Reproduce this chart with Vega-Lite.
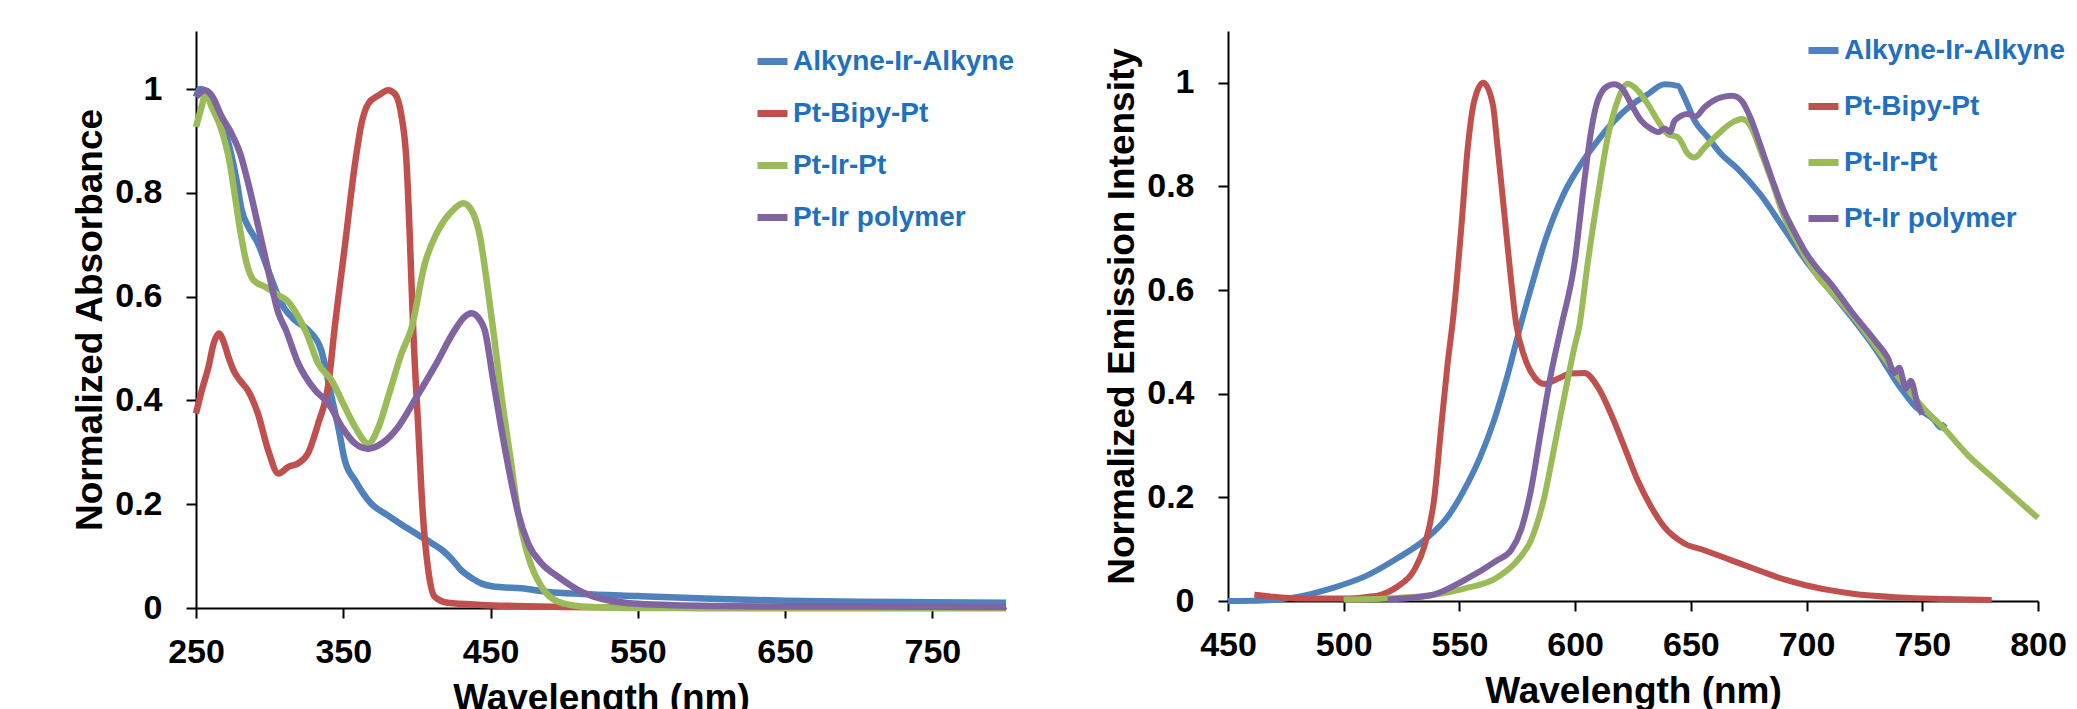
{
  "$schema": "https://vega.github.io/schema/vega-lite/v6.json",
  "background": "white",
  "padding": {"left": 71, "top": 31, "right": 0, "bottom": 0},
  "bounds": "flush",
  "spacing": 222,
  "config": {
    "view": {"stroke": null},
    "font": "Liberation Sans",
    "axis": {
      "grid": false,
      "labelFlush": false,
      "labelOverlap": false,
      "domainColor": "black",
      "domainWidth": 2,
      "tickColor": "black",
      "tickWidth": 2,
      "tickSize": 10,
      "labelFont": "Liberation Sans",
      "labelFontSize": 34,
      "labelFontWeight": "bold",
      "labelColor": "black",
      "titleFont": "Liberation Sans",
      "titleFontSize": 37,
      "titleFontWeight": "bold",
      "titleColor": "black"
    },
    "axisX": {"labelPadding": 17, "titlePadding": 11},
    "axisY": {"labelPadding": 24, "titlePadding": 5},
    "legend": {
      "title": null,
      "symbolType": "stroke",
      "symbolSize": 900,
      "symbolStrokeWidth": 7,
      "labelFont": "Liberation Sans",
      "labelFontSize": 28,
      "labelFontWeight": "bold",
      "labelColor": "#1F70C1",
      "labelLimit": 600,
      "labelOffset": 2,
      "padding": 0
    }
  },
  "resolve": {"scale": {"color": "independent"}, "legend": {"color": "independent"}},
  "datasets": {
    "abs": [
      {"s": "Alkyne-Ir-Alkyne", "wl": 250, "v": 0.985},
      {"s": "Alkyne-Ir-Alkyne", "wl": 253, "v": 1.0},
      {"s": "Alkyne-Ir-Alkyne", "wl": 257, "v": 0.995},
      {"s": "Alkyne-Ir-Alkyne", "wl": 262, "v": 0.975},
      {"s": "Alkyne-Ir-Alkyne", "wl": 267, "v": 0.94},
      {"s": "Alkyne-Ir-Alkyne", "wl": 273, "v": 0.885},
      {"s": "Alkyne-Ir-Alkyne", "wl": 277.5, "v": 0.825},
      {"s": "Alkyne-Ir-Alkyne", "wl": 281, "v": 0.767},
      {"s": "Alkyne-Ir-Alkyne", "wl": 285.5, "v": 0.735},
      {"s": "Alkyne-Ir-Alkyne", "wl": 292, "v": 0.703},
      {"s": "Alkyne-Ir-Alkyne", "wl": 299, "v": 0.651},
      {"s": "Alkyne-Ir-Alkyne", "wl": 308, "v": 0.587},
      {"s": "Alkyne-Ir-Alkyne", "wl": 317, "v": 0.555},
      {"s": "Alkyne-Ir-Alkyne", "wl": 326, "v": 0.536},
      {"s": "Alkyne-Ir-Alkyne", "wl": 335, "v": 0.497},
      {"s": "Alkyne-Ir-Alkyne", "wl": 342, "v": 0.407},
      {"s": "Alkyne-Ir-Alkyne", "wl": 347, "v": 0.343},
      {"s": "Alkyne-Ir-Alkyne", "wl": 351, "v": 0.285},
      {"s": "Alkyne-Ir-Alkyne", "wl": 358, "v": 0.246},
      {"s": "Alkyne-Ir-Alkyne", "wl": 369, "v": 0.201},
      {"s": "Alkyne-Ir-Alkyne", "wl": 380, "v": 0.179},
      {"s": "Alkyne-Ir-Alkyne", "wl": 390, "v": 0.16},
      {"s": "Alkyne-Ir-Alkyne", "wl": 399, "v": 0.144},
      {"s": "Alkyne-Ir-Alkyne", "wl": 410, "v": 0.125},
      {"s": "Alkyne-Ir-Alkyne", "wl": 417, "v": 0.112},
      {"s": "Alkyne-Ir-Alkyne", "wl": 424, "v": 0.093},
      {"s": "Alkyne-Ir-Alkyne", "wl": 430, "v": 0.073},
      {"s": "Alkyne-Ir-Alkyne", "wl": 437, "v": 0.058},
      {"s": "Alkyne-Ir-Alkyne", "wl": 444, "v": 0.047},
      {"s": "Alkyne-Ir-Alkyne", "wl": 451, "v": 0.042},
      {"s": "Alkyne-Ir-Alkyne", "wl": 458, "v": 0.04},
      {"s": "Alkyne-Ir-Alkyne", "wl": 471, "v": 0.038},
      {"s": "Alkyne-Ir-Alkyne", "wl": 489, "v": 0.031},
      {"s": "Alkyne-Ir-Alkyne", "wl": 512, "v": 0.027},
      {"s": "Alkyne-Ir-Alkyne", "wl": 550, "v": 0.023},
      {"s": "Alkyne-Ir-Alkyne", "wl": 600, "v": 0.018},
      {"s": "Alkyne-Ir-Alkyne", "wl": 650, "v": 0.014},
      {"s": "Alkyne-Ir-Alkyne", "wl": 700, "v": 0.012},
      {"s": "Alkyne-Ir-Alkyne", "wl": 750, "v": 0.011},
      {"s": "Alkyne-Ir-Alkyne", "wl": 800, "v": 0.01},

      {"s": "Pt-Bipy-Pt", "wl": 250, "v": 0.375},
      {"s": "Pt-Bipy-Pt", "wl": 254, "v": 0.42},
      {"s": "Pt-Bipy-Pt", "wl": 258.5, "v": 0.465},
      {"s": "Pt-Bipy-Pt", "wl": 262, "v": 0.51},
      {"s": "Pt-Bipy-Pt", "wl": 265.5, "v": 0.529},
      {"s": "Pt-Bipy-Pt", "wl": 268.5, "v": 0.515},
      {"s": "Pt-Bipy-Pt", "wl": 272, "v": 0.484},
      {"s": "Pt-Bipy-Pt", "wl": 276, "v": 0.455},
      {"s": "Pt-Bipy-Pt", "wl": 280, "v": 0.438},
      {"s": "Pt-Bipy-Pt", "wl": 285.5, "v": 0.418},
      {"s": "Pt-Bipy-Pt", "wl": 292, "v": 0.375},
      {"s": "Pt-Bipy-Pt", "wl": 299, "v": 0.304},
      {"s": "Pt-Bipy-Pt", "wl": 306, "v": 0.259},
      {"s": "Pt-Bipy-Pt", "wl": 312.7, "v": 0.272},
      {"s": "Pt-Bipy-Pt", "wl": 319.5, "v": 0.279},
      {"s": "Pt-Bipy-Pt", "wl": 326, "v": 0.298},
      {"s": "Pt-Bipy-Pt", "wl": 333, "v": 0.356},
      {"s": "Pt-Bipy-Pt", "wl": 340, "v": 0.433},
      {"s": "Pt-Bipy-Pt", "wl": 344, "v": 0.536},
      {"s": "Pt-Bipy-Pt", "wl": 351, "v": 0.696},
      {"s": "Pt-Bipy-Pt", "wl": 358, "v": 0.857},
      {"s": "Pt-Bipy-Pt", "wl": 362.4, "v": 0.934},
      {"s": "Pt-Bipy-Pt", "wl": 367, "v": 0.972},
      {"s": "Pt-Bipy-Pt", "wl": 374, "v": 0.988},
      {"s": "Pt-Bipy-Pt", "wl": 380.5, "v": 0.998},
      {"s": "Pt-Bipy-Pt", "wl": 385, "v": 0.991},
      {"s": "Pt-Bipy-Pt", "wl": 389.6, "v": 0.947},
      {"s": "Pt-Bipy-Pt", "wl": 393, "v": 0.857},
      {"s": "Pt-Bipy-Pt", "wl": 395, "v": 0.728},
      {"s": "Pt-Bipy-Pt", "wl": 397.5, "v": 0.536},
      {"s": "Pt-Bipy-Pt", "wl": 401, "v": 0.343},
      {"s": "Pt-Bipy-Pt", "wl": 404, "v": 0.182},
      {"s": "Pt-Bipy-Pt", "wl": 407.7, "v": 0.073},
      {"s": "Pt-Bipy-Pt", "wl": 412, "v": 0.022},
      {"s": "Pt-Bipy-Pt", "wl": 421, "v": 0.01},
      {"s": "Pt-Bipy-Pt", "wl": 444, "v": 0.006},
      {"s": "Pt-Bipy-Pt", "wl": 466, "v": 0.004},
      {"s": "Pt-Bipy-Pt", "wl": 500, "v": 0.002},
      {"s": "Pt-Bipy-Pt", "wl": 550, "v": 0.001},
      {"s": "Pt-Bipy-Pt", "wl": 600, "v": 0.0},
      {"s": "Pt-Bipy-Pt", "wl": 800, "v": 0.0},

      {"s": "Pt-Ir-Pt", "wl": 250, "v": 0.927},
      {"s": "Pt-Ir-Pt", "wl": 253.8, "v": 0.966},
      {"s": "Pt-Ir-Pt", "wl": 256.6, "v": 0.992},
      {"s": "Pt-Ir-Pt", "wl": 260.6, "v": 0.966},
      {"s": "Pt-Ir-Pt", "wl": 267.4, "v": 0.921},
      {"s": "Pt-Ir-Pt", "wl": 273, "v": 0.857},
      {"s": "Pt-Ir-Pt", "wl": 276.5, "v": 0.793},
      {"s": "Pt-Ir-Pt", "wl": 280, "v": 0.728},
      {"s": "Pt-Ir-Pt", "wl": 284.4, "v": 0.664},
      {"s": "Pt-Ir-Pt", "wl": 289, "v": 0.632},
      {"s": "Pt-Ir-Pt", "wl": 296.8, "v": 0.619},
      {"s": "Pt-Ir-Pt", "wl": 305.9, "v": 0.603},
      {"s": "Pt-Ir-Pt", "wl": 312.7, "v": 0.59},
      {"s": "Pt-Ir-Pt", "wl": 319.5, "v": 0.561},
      {"s": "Pt-Ir-Pt", "wl": 325, "v": 0.53},
      {"s": "Pt-Ir-Pt", "wl": 333, "v": 0.471},
      {"s": "Pt-Ir-Pt", "wl": 342, "v": 0.439},
      {"s": "Pt-Ir-Pt", "wl": 351, "v": 0.388},
      {"s": "Pt-Ir-Pt", "wl": 358, "v": 0.349},
      {"s": "Pt-Ir-Pt", "wl": 367, "v": 0.317},
      {"s": "Pt-Ir-Pt", "wl": 374, "v": 0.349},
      {"s": "Pt-Ir-Pt", "wl": 380.5, "v": 0.407},
      {"s": "Pt-Ir-Pt", "wl": 389.6, "v": 0.491},
      {"s": "Pt-Ir-Pt", "wl": 396.4, "v": 0.54},
      {"s": "Pt-Ir-Pt", "wl": 405.4, "v": 0.664},
      {"s": "Pt-Ir-Pt", "wl": 414.5, "v": 0.728},
      {"s": "Pt-Ir-Pt", "wl": 423.5, "v": 0.764},
      {"s": "Pt-Ir-Pt", "wl": 431.4, "v": 0.78},
      {"s": "Pt-Ir-Pt", "wl": 437, "v": 0.767},
      {"s": "Pt-Ir-Pt", "wl": 442.8, "v": 0.716},
      {"s": "Pt-Ir-Pt", "wl": 447.3, "v": 0.632},
      {"s": "Pt-Ir-Pt", "wl": 451.8, "v": 0.536},
      {"s": "Pt-Ir-Pt", "wl": 457.5, "v": 0.407},
      {"s": "Pt-Ir-Pt", "wl": 464, "v": 0.279},
      {"s": "Pt-Ir-Pt", "wl": 468.8, "v": 0.182},
      {"s": "Pt-Ir-Pt", "wl": 475.6, "v": 0.099},
      {"s": "Pt-Ir-Pt", "wl": 484.6, "v": 0.041},
      {"s": "Pt-Ir-Pt", "wl": 496, "v": 0.012},
      {"s": "Pt-Ir-Pt", "wl": 512, "v": 0.003},
      {"s": "Pt-Ir-Pt", "wl": 530, "v": 0.001},
      {"s": "Pt-Ir-Pt", "wl": 550, "v": 0.0},
      {"s": "Pt-Ir-Pt", "wl": 800, "v": 0.0},

      {"s": "Pt-Ir polymer", "wl": 250, "v": 0.985},
      {"s": "Pt-Ir polymer", "wl": 256, "v": 0.998},
      {"s": "Pt-Ir polymer", "wl": 260.6, "v": 0.988},
      {"s": "Pt-Ir polymer", "wl": 267.4, "v": 0.947},
      {"s": "Pt-Ir polymer", "wl": 274, "v": 0.915},
      {"s": "Pt-Ir polymer", "wl": 280, "v": 0.876},
      {"s": "Pt-Ir polymer", "wl": 285.5, "v": 0.818},
      {"s": "Pt-Ir polymer", "wl": 292.3, "v": 0.735},
      {"s": "Pt-Ir polymer", "wl": 299, "v": 0.651},
      {"s": "Pt-Ir polymer", "wl": 306, "v": 0.568},
      {"s": "Pt-Ir polymer", "wl": 311, "v": 0.536},
      {"s": "Pt-Ir polymer", "wl": 319.5, "v": 0.471},
      {"s": "Pt-Ir polymer", "wl": 330.8, "v": 0.42},
      {"s": "Pt-Ir polymer", "wl": 340, "v": 0.394},
      {"s": "Pt-Ir polymer", "wl": 349, "v": 0.349},
      {"s": "Pt-Ir polymer", "wl": 358, "v": 0.317},
      {"s": "Pt-Ir polymer", "wl": 367, "v": 0.307},
      {"s": "Pt-Ir polymer", "wl": 376, "v": 0.317},
      {"s": "Pt-Ir polymer", "wl": 387.3, "v": 0.349},
      {"s": "Pt-Ir polymer", "wl": 398.6, "v": 0.401},
      {"s": "Pt-Ir polymer", "wl": 412, "v": 0.465},
      {"s": "Pt-Ir polymer", "wl": 425.8, "v": 0.536},
      {"s": "Pt-Ir polymer", "wl": 432, "v": 0.56},
      {"s": "Pt-Ir polymer", "wl": 437, "v": 0.568},
      {"s": "Pt-Ir polymer", "wl": 442.8, "v": 0.555},
      {"s": "Pt-Ir polymer", "wl": 446, "v": 0.536},
      {"s": "Pt-Ir polymer", "wl": 451.8, "v": 0.439},
      {"s": "Pt-Ir polymer", "wl": 457.5, "v": 0.343},
      {"s": "Pt-Ir polymer", "wl": 463, "v": 0.259},
      {"s": "Pt-Ir polymer", "wl": 468.8, "v": 0.182},
      {"s": "Pt-Ir polymer", "wl": 475.6, "v": 0.124},
      {"s": "Pt-Ir polymer", "wl": 484.6, "v": 0.086},
      {"s": "Pt-Ir polymer", "wl": 496, "v": 0.06},
      {"s": "Pt-Ir polymer", "wl": 512, "v": 0.031},
      {"s": "Pt-Ir polymer", "wl": 520, "v": 0.022},
      {"s": "Pt-Ir polymer", "wl": 530, "v": 0.015},
      {"s": "Pt-Ir polymer", "wl": 550, "v": 0.008},
      {"s": "Pt-Ir polymer", "wl": 580, "v": 0.005},
      {"s": "Pt-Ir polymer", "wl": 600, "v": 0.004},
      {"s": "Pt-Ir polymer", "wl": 650, "v": 0.003},
      {"s": "Pt-Ir polymer", "wl": 700, "v": 0.003},
      {"s": "Pt-Ir polymer", "wl": 800, "v": 0.002}
    ],
    "em": [
      {"s": "Alkyne-Ir-Alkyne", "wl": 450, "v": 0.0},
      {"s": "Alkyne-Ir-Alkyne", "wl": 465, "v": 0.001},
      {"s": "Alkyne-Ir-Alkyne", "wl": 480, "v": 0.008},
      {"s": "Alkyne-Ir-Alkyne", "wl": 495, "v": 0.025},
      {"s": "Alkyne-Ir-Alkyne", "wl": 509, "v": 0.047},
      {"s": "Alkyne-Ir-Alkyne", "wl": 523, "v": 0.082},
      {"s": "Alkyne-Ir-Alkyne", "wl": 535, "v": 0.118},
      {"s": "Alkyne-Ir-Alkyne", "wl": 545, "v": 0.163},
      {"s": "Alkyne-Ir-Alkyne", "wl": 552, "v": 0.214},
      {"s": "Alkyne-Ir-Alkyne", "wl": 559, "v": 0.278},
      {"s": "Alkyne-Ir-Alkyne", "wl": 565, "v": 0.349},
      {"s": "Alkyne-Ir-Alkyne", "wl": 571, "v": 0.439},
      {"s": "Alkyne-Ir-Alkyne", "wl": 576, "v": 0.525},
      {"s": "Alkyne-Ir-Alkyne", "wl": 581, "v": 0.605},
      {"s": "Alkyne-Ir-Alkyne", "wl": 587, "v": 0.695},
      {"s": "Alkyne-Ir-Alkyne", "wl": 595, "v": 0.785},
      {"s": "Alkyne-Ir-Alkyne", "wl": 602.5, "v": 0.843},
      {"s": "Alkyne-Ir-Alkyne", "wl": 609.7, "v": 0.888},
      {"s": "Alkyne-Ir-Alkyne", "wl": 617, "v": 0.927},
      {"s": "Alkyne-Ir-Alkyne", "wl": 624, "v": 0.956},
      {"s": "Alkyne-Ir-Alkyne", "wl": 631.4, "v": 0.978},
      {"s": "Alkyne-Ir-Alkyne", "wl": 638.6, "v": 0.997},
      {"s": "Alkyne-Ir-Alkyne", "wl": 644.4, "v": 0.994},
      {"s": "Alkyne-Ir-Alkyne", "wl": 647.2, "v": 0.972},
      {"s": "Alkyne-Ir-Alkyne", "wl": 651.6, "v": 0.927},
      {"s": "Alkyne-Ir-Alkyne", "wl": 657.3, "v": 0.895},
      {"s": "Alkyne-Ir-Alkyne", "wl": 663, "v": 0.863},
      {"s": "Alkyne-Ir-Alkyne", "wl": 670, "v": 0.835},
      {"s": "Alkyne-Ir-Alkyne", "wl": 680, "v": 0.785},
      {"s": "Alkyne-Ir-Alkyne", "wl": 690, "v": 0.72},
      {"s": "Alkyne-Ir-Alkyne", "wl": 700, "v": 0.655},
      {"s": "Alkyne-Ir-Alkyne", "wl": 710, "v": 0.6},
      {"s": "Alkyne-Ir-Alkyne", "wl": 720, "v": 0.545},
      {"s": "Alkyne-Ir-Alkyne", "wl": 730, "v": 0.485},
      {"s": "Alkyne-Ir-Alkyne", "wl": 740, "v": 0.415},
      {"s": "Alkyne-Ir-Alkyne", "wl": 747, "v": 0.375},
      {"s": "Alkyne-Ir-Alkyne", "wl": 755, "v": 0.35},
      {"s": "Alkyne-Ir-Alkyne", "wl": 758, "v": 0.335},
      {"s": "Alkyne-Ir-Alkyne", "wl": 760, "v": 0.342},

      {"s": "Pt-Bipy-Pt", "wl": 461.4, "v": 0.012},
      {"s": "Pt-Bipy-Pt", "wl": 470, "v": 0.008},
      {"s": "Pt-Bipy-Pt", "wl": 480, "v": 0.005},
      {"s": "Pt-Bipy-Pt", "wl": 500, "v": 0.005},
      {"s": "Pt-Bipy-Pt", "wl": 510, "v": 0.008},
      {"s": "Pt-Bipy-Pt", "wl": 516, "v": 0.012},
      {"s": "Pt-Bipy-Pt", "wl": 523.3, "v": 0.028},
      {"s": "Pt-Bipy-Pt", "wl": 530.5, "v": 0.06},
      {"s": "Pt-Bipy-Pt", "wl": 534.8, "v": 0.105},
      {"s": "Pt-Bipy-Pt", "wl": 539.2, "v": 0.201},
      {"s": "Pt-Bipy-Pt", "wl": 542, "v": 0.33},
      {"s": "Pt-Bipy-Pt", "wl": 544.9, "v": 0.458},
      {"s": "Pt-Bipy-Pt", "wl": 547.5, "v": 0.555},
      {"s": "Pt-Bipy-Pt", "wl": 550.7, "v": 0.715},
      {"s": "Pt-Bipy-Pt", "wl": 553.6, "v": 0.875},
      {"s": "Pt-Bipy-Pt", "wl": 556.4, "v": 0.965},
      {"s": "Pt-Bipy-Pt", "wl": 560.3, "v": 1.0},
      {"s": "Pt-Bipy-Pt", "wl": 564.4, "v": 0.959},
      {"s": "Pt-Bipy-Pt", "wl": 566.5, "v": 0.875},
      {"s": "Pt-Bipy-Pt", "wl": 568.7, "v": 0.779},
      {"s": "Pt-Bipy-Pt", "wl": 571.6, "v": 0.65},
      {"s": "Pt-Bipy-Pt", "wl": 574.5, "v": 0.535},
      {"s": "Pt-Bipy-Pt", "wl": 578.1, "v": 0.471},
      {"s": "Pt-Bipy-Pt", "wl": 582.4, "v": 0.432},
      {"s": "Pt-Bipy-Pt", "wl": 586.7, "v": 0.419},
      {"s": "Pt-Bipy-Pt", "wl": 592.5, "v": 0.429},
      {"s": "Pt-Bipy-Pt", "wl": 598.2, "v": 0.439},
      {"s": "Pt-Bipy-Pt", "wl": 604, "v": 0.44},
      {"s": "Pt-Bipy-Pt", "wl": 609.8, "v": 0.413},
      {"s": "Pt-Bipy-Pt", "wl": 615.5, "v": 0.361},
      {"s": "Pt-Bipy-Pt", "wl": 621.3, "v": 0.297},
      {"s": "Pt-Bipy-Pt", "wl": 627, "v": 0.233},
      {"s": "Pt-Bipy-Pt", "wl": 632.8, "v": 0.182},
      {"s": "Pt-Bipy-Pt", "wl": 638.5, "v": 0.143},
      {"s": "Pt-Bipy-Pt", "wl": 647.2, "v": 0.111},
      {"s": "Pt-Bipy-Pt", "wl": 655.8, "v": 0.098},
      {"s": "Pt-Bipy-Pt", "wl": 667.3, "v": 0.079},
      {"s": "Pt-Bipy-Pt", "wl": 680, "v": 0.058},
      {"s": "Pt-Bipy-Pt", "wl": 690, "v": 0.042},
      {"s": "Pt-Bipy-Pt", "wl": 700, "v": 0.03},
      {"s": "Pt-Bipy-Pt", "wl": 710, "v": 0.021},
      {"s": "Pt-Bipy-Pt", "wl": 720, "v": 0.014},
      {"s": "Pt-Bipy-Pt", "wl": 740, "v": 0.007},
      {"s": "Pt-Bipy-Pt", "wl": 760, "v": 0.004},
      {"s": "Pt-Bipy-Pt", "wl": 780, "v": 0.002},

      {"s": "Pt-Ir-Pt", "wl": 500, "v": 0.003},
      {"s": "Pt-Ir-Pt", "wl": 523.3, "v": 0.006},
      {"s": "Pt-Ir-Pt", "wl": 537.7, "v": 0.011},
      {"s": "Pt-Ir-Pt", "wl": 552.1, "v": 0.024},
      {"s": "Pt-Ir-Pt", "wl": 566.5, "v": 0.046},
      {"s": "Pt-Ir-Pt", "wl": 575.2, "v": 0.079},
      {"s": "Pt-Ir-Pt", "wl": 580.9, "v": 0.117},
      {"s": "Pt-Ir-Pt", "wl": 586.7, "v": 0.201},
      {"s": "Pt-Ir-Pt", "wl": 591, "v": 0.297},
      {"s": "Pt-Ir-Pt", "wl": 595.3, "v": 0.394},
      {"s": "Pt-Ir-Pt", "wl": 599.7, "v": 0.49},
      {"s": "Pt-Ir-Pt", "wl": 601.8, "v": 0.53},
      {"s": "Pt-Ir-Pt", "wl": 605.4, "v": 0.651},
      {"s": "Pt-Ir-Pt", "wl": 609.7, "v": 0.779},
      {"s": "Pt-Ir-Pt", "wl": 614.1, "v": 0.895},
      {"s": "Pt-Ir-Pt", "wl": 618.4, "v": 0.966},
      {"s": "Pt-Ir-Pt", "wl": 622.7, "v": 0.998},
      {"s": "Pt-Ir-Pt", "wl": 627.1, "v": 0.985},
      {"s": "Pt-Ir-Pt", "wl": 631.4, "v": 0.959},
      {"s": "Pt-Ir-Pt", "wl": 635.7, "v": 0.927},
      {"s": "Pt-Ir-Pt", "wl": 640.1, "v": 0.901},
      {"s": "Pt-Ir-Pt", "wl": 644.4, "v": 0.895},
      {"s": "Pt-Ir-Pt", "wl": 648.7, "v": 0.863},
      {"s": "Pt-Ir-Pt", "wl": 651.6, "v": 0.856},
      {"s": "Pt-Ir-Pt", "wl": 655.9, "v": 0.875},
      {"s": "Pt-Ir-Pt", "wl": 661.7, "v": 0.901},
      {"s": "Pt-Ir-Pt", "wl": 667.4, "v": 0.922},
      {"s": "Pt-Ir-Pt", "wl": 672, "v": 0.93},
      {"s": "Pt-Ir-Pt", "wl": 676, "v": 0.915},
      {"s": "Pt-Ir-Pt", "wl": 680, "v": 0.87},
      {"s": "Pt-Ir-Pt", "wl": 685, "v": 0.81},
      {"s": "Pt-Ir-Pt", "wl": 690, "v": 0.745},
      {"s": "Pt-Ir-Pt", "wl": 695, "v": 0.7},
      {"s": "Pt-Ir-Pt", "wl": 700, "v": 0.66},
      {"s": "Pt-Ir-Pt", "wl": 705, "v": 0.625},
      {"s": "Pt-Ir-Pt", "wl": 710, "v": 0.6},
      {"s": "Pt-Ir-Pt", "wl": 720, "v": 0.55},
      {"s": "Pt-Ir-Pt", "wl": 730, "v": 0.49},
      {"s": "Pt-Ir-Pt", "wl": 740, "v": 0.43},
      {"s": "Pt-Ir-Pt", "wl": 750, "v": 0.375},
      {"s": "Pt-Ir-Pt", "wl": 760, "v": 0.33},
      {"s": "Pt-Ir-Pt", "wl": 770, "v": 0.28},
      {"s": "Pt-Ir-Pt", "wl": 780, "v": 0.24},
      {"s": "Pt-Ir-Pt", "wl": 790, "v": 0.2},
      {"s": "Pt-Ir-Pt", "wl": 800, "v": 0.16},

      {"s": "Pt-Ir polymer", "wl": 519, "v": 0.003},
      {"s": "Pt-Ir polymer", "wl": 537.7, "v": 0.011},
      {"s": "Pt-Ir polymer", "wl": 552.1, "v": 0.04},
      {"s": "Pt-Ir polymer", "wl": 566.5, "v": 0.079},
      {"s": "Pt-Ir polymer", "wl": 572.3, "v": 0.098},
      {"s": "Pt-Ir polymer", "wl": 576.6, "v": 0.137},
      {"s": "Pt-Ir polymer", "wl": 580.9, "v": 0.214},
      {"s": "Pt-Ir polymer", "wl": 585.3, "v": 0.33},
      {"s": "Pt-Ir polymer", "wl": 589.6, "v": 0.439},
      {"s": "Pt-Ir polymer", "wl": 594, "v": 0.53},
      {"s": "Pt-Ir polymer", "wl": 599.7, "v": 0.651},
      {"s": "Pt-Ir polymer", "wl": 604, "v": 0.811},
      {"s": "Pt-Ir polymer", "wl": 606.9, "v": 0.907},
      {"s": "Pt-Ir polymer", "wl": 609.7, "v": 0.965},
      {"s": "Pt-Ir polymer", "wl": 614.1, "v": 0.994},
      {"s": "Pt-Ir polymer", "wl": 616.9, "v": 0.997},
      {"s": "Pt-Ir polymer", "wl": 620.5, "v": 0.988},
      {"s": "Pt-Ir polymer", "wl": 624.2, "v": 0.959},
      {"s": "Pt-Ir polymer", "wl": 628.5, "v": 0.927},
      {"s": "Pt-Ir polymer", "wl": 632.8, "v": 0.911},
      {"s": "Pt-Ir polymer", "wl": 636, "v": 0.905},
      {"s": "Pt-Ir polymer", "wl": 638.6, "v": 0.912},
      {"s": "Pt-Ir polymer", "wl": 641, "v": 0.905},
      {"s": "Pt-Ir polymer", "wl": 643, "v": 0.927},
      {"s": "Pt-Ir polymer", "wl": 648.7, "v": 0.94},
      {"s": "Pt-Ir polymer", "wl": 652, "v": 0.935},
      {"s": "Pt-Ir polymer", "wl": 655.9, "v": 0.953},
      {"s": "Pt-Ir polymer", "wl": 663.1, "v": 0.972},
      {"s": "Pt-Ir polymer", "wl": 668, "v": 0.975},
      {"s": "Pt-Ir polymer", "wl": 672, "v": 0.965},
      {"s": "Pt-Ir polymer", "wl": 676, "v": 0.93},
      {"s": "Pt-Ir polymer", "wl": 680, "v": 0.88},
      {"s": "Pt-Ir polymer", "wl": 685, "v": 0.815},
      {"s": "Pt-Ir polymer", "wl": 690, "v": 0.755},
      {"s": "Pt-Ir polymer", "wl": 695, "v": 0.71},
      {"s": "Pt-Ir polymer", "wl": 700, "v": 0.67},
      {"s": "Pt-Ir polymer", "wl": 705, "v": 0.64},
      {"s": "Pt-Ir polymer", "wl": 710, "v": 0.615},
      {"s": "Pt-Ir polymer", "wl": 720, "v": 0.555},
      {"s": "Pt-Ir polymer", "wl": 730, "v": 0.5},
      {"s": "Pt-Ir polymer", "wl": 735, "v": 0.47},
      {"s": "Pt-Ir polymer", "wl": 738, "v": 0.44},
      {"s": "Pt-Ir polymer", "wl": 740, "v": 0.45},
      {"s": "Pt-Ir polymer", "wl": 743, "v": 0.41},
      {"s": "Pt-Ir polymer", "wl": 745, "v": 0.425},
      {"s": "Pt-Ir polymer", "wl": 748, "v": 0.38},
      {"s": "Pt-Ir polymer", "wl": 750, "v": 0.36}
    ]
  },
  "hconcat": [
    {
      "width": 810,
      "height": 577,
      "data": {"name": "abs"},
      "mark": {"type": "line", "strokeWidth": 6.5, "interpolate": "monotone"},
      "encoding": {
        "x": {
          "field": "wl", "type": "quantitative",
          "scale": {"domain": [250, 800], "nice": false, "zero": false},
          "axis": {"values": [250, 350, 450, 550, 650, 750], "title": "Wavelength (nm)"}
        },
        "y": {
          "field": "v", "type": "quantitative",
          "scale": {"domain": [0, 1.112], "nice": false},
          "axis": {"values": [0, 0.2, 0.4, 0.6, 0.8, 1], "format": "~g", "title": "Normalized Absorbance"}
        },
        "color": {
          "field": "s", "type": "nominal",
          "scale": {
            "domain": ["Alkyne-Ir-Alkyne", "Pt-Bipy-Pt", "Pt-Ir-Pt", "Pt-Ir polymer"],
            "range": ["#4F81BD", "#C0504D", "#9BBB59", "#8064A2"]
          },
          "legend": {"orient": "none", "legendX": 558, "legendY": 12, "rowPadding": 19}
        }
      }
    },
    {
      "width": 810,
      "height": 570,
      "data": {"name": "em"},
      "mark": {"type": "line", "strokeWidth": 6, "interpolate": "monotone"},
      "encoding": {
        "x": {
          "field": "wl", "type": "quantitative",
          "scale": {"domain": [450, 800], "nice": false, "zero": false},
          "axis": {"values": [450, 500, 550, 600, 650, 700, 750, 800], "title": "Wavelength (nm)"}
        },
        "y": {
          "field": "v", "type": "quantitative",
          "scale": {"domain": [0, 1.1], "nice": false},
          "axis": {"values": [0, 0.2, 0.4, 0.6, 0.8, 1], "format": "~g", "title": "Normalized Emission  Intensity"}
        },
        "color": {
          "field": "s", "type": "nominal",
          "scale": {
            "domain": ["Alkyne-Ir-Alkyne", "Pt-Bipy-Pt", "Pt-Ir-Pt", "Pt-Ir polymer"],
            "range": ["#4F81BD", "#C0504D", "#9BBB59", "#8064A2"]
          },
          "legend": {"orient": "none", "legendX": 577, "legendY": 1, "rowPadding": 23}
        }
      }
    }
  ]
}
